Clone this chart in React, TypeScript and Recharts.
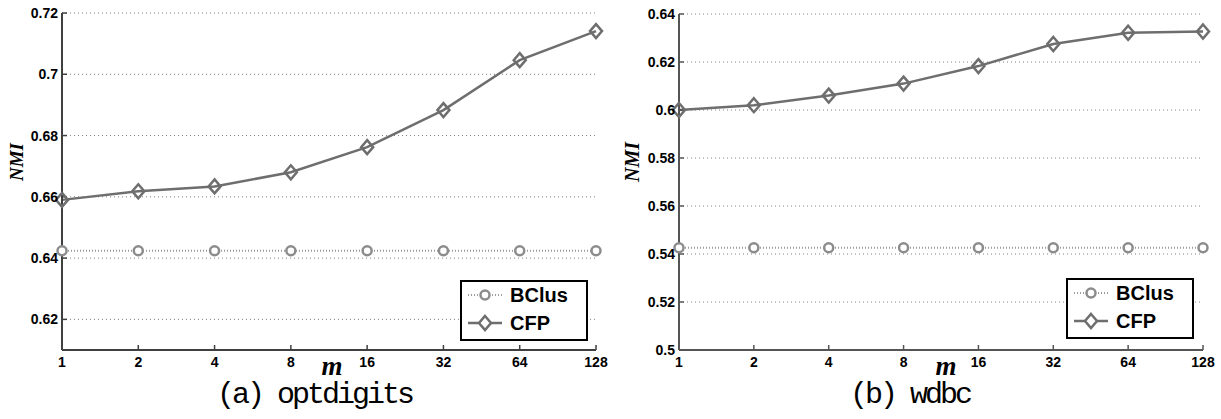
import { LineChart, Line, XAxis, YAxis, CartesianGrid, Legend } from 'recharts';

// m values (equally spaced on the axis)
const mValues = ['1', '2', '4', '8', '16', '32', '64', '128'];

// (a) optdigits
const optdigitsBClus = [0.6424, 0.6424, 0.6424, 0.6424, 0.6424, 0.6424, 0.6424, 0.6424];
const optdigitsCFP = [0.659, 0.6618, 0.6634, 0.668, 0.6762, 0.6883, 0.7046, 0.7141];
const optdigitsTicks = [0.62, 0.64, 0.66, 0.68, 0.7, 0.72];

// (b) wdbc
const wdbcBClus = [0.5426, 0.5426, 0.5426, 0.5426, 0.5426, 0.5426, 0.5426, 0.5426];
const wdbcCFP = [0.6, 0.602, 0.606, 0.611, 0.6183, 0.6275, 0.6322, 0.6327];
const wdbcTicks = [0.5, 0.52, 0.54, 0.56, 0.58, 0.6, 0.62, 0.64];

const CFP_COLOR = '#6e6e6e';
const BCLUS_COLOR = '#8c8c8c';
const tickFont = { fontFamily: '"Liberation Sans", Arial, sans-serif', fontWeight: 'bold', fontSize: 14, fill: '#000' };
const labelFont = '"Liberation Serif", "Times New Roman", serif';

function DiamondDot(props: any) {
  const { cx, cy, index } = props;
  if (cx == null || cy == null) return <g key={`dd-${index}`} />;
  return (
    <path
      key={`dd-${index}`}
      d={`M${cx},${cy - 7}L${cx + 6},${cy}L${cx},${cy + 7}L${cx - 6},${cy}Z`}
      fill="none"
      stroke={CFP_COLOR}
      strokeWidth={2.5}
    />
  );
}

const LegendBox = () => (
  <div style={{ width: '100%', height: '100%', position: 'relative' }}>
    <svg width={128} height={61} style={{ position: 'absolute', left: 0, top: 0 }}>
      <rect x={1} y={1} width={126} height={59} fill="#fff" stroke="#000" strokeWidth={2} />
      <line x1={8} y1={15} x2={42} y2={15} stroke="#9a9a9a" strokeWidth={2} strokeDasharray="1 2" />
      <circle cx={25} cy={15} r={4.5} fill="#fff" stroke={BCLUS_COLOR} strokeWidth={2.5} />
      <line x1={8} y1={43} x2={42} y2={43} stroke={CFP_COLOR} strokeWidth={2.5} />
      <path d="M25,36L31,43L25,50L19,43Z" fill="#fff" stroke={CFP_COLOR} strokeWidth={2.5} />
      <text x={50} y={22} style={{ ...tickFont, fontSize: 20 }}>BClus</text>
      <text x={50} y={50} style={{ ...tickFont, fontSize: 20 }}>CFP</text>
    </svg>
  </div>
);

interface PanelProps {
  bclus: number[];
  cfp: number[];
  ticks: number[];
  domain: [number, number];
  width: number;
  leftWidth: number;
  marginTop: number;
  marginRight: number;
  legendLeft: number;
  legendTop: number;
  nmiX: number;
  nmiSize: number;
  mX: number;
  axisColor: string;
}

function Panel(p: PanelProps) {
  const data = mValues.map((m, i) => ({ m, bclus: p.bclus[i], cfp: p.cfp[i] }));
  const fmt = (v: number) => String(Number(v.toFixed(2)));
  const line = { stroke: p.axisColor, strokeWidth: 2 };
  const tl = { stroke: p.axisColor, strokeWidth: 1.5 };
  return (
    <LineChart
      width={p.width}
      height={419}
      data={data}
      margin={{ top: p.marginTop, right: p.marginRight, left: 0, bottom: 0 }}
    >
      <CartesianGrid xAxisId="b" yAxisId="l" vertical={false} stroke="#808080" strokeDasharray="1 3" />
      <XAxis
        xAxisId="b"
        dataKey="m"
        height={69}
        padding={{ left: 0, right: 0 }}
        stroke={p.axisColor}
        axisLine={line}
        tickLine={tl}
        tickSize={-5}
        tickMargin={12}
        tick={tickFont}
        interval={0}
        label={() => (
          <text x={p.mX} y={375} textAnchor="middle" style={{ fontFamily: labelFont, fontWeight: 'bold', fontStyle: 'italic', fontSize: 27 }}>
            m
          </text>
        )}
      />
      <XAxis
        xAxisId="t"
        dataKey="m"
        orientation="top"
        height={0}
        padding={{ left: 0, right: 0 }}
        stroke={p.axisColor}
        axisLine={line}
        tickLine={tl}
        tickSize={-5}
        tickFormatter={() => ''}
        interval={0}
      />
      <YAxis
        yAxisId="l"
        type="number"
        domain={p.domain}
        ticks={p.ticks}
        width={p.leftWidth}
        stroke={p.axisColor}
        axisLine={line}
        tickLine={tl}
        tickSize={-5}
        tickMargin={9}
        tick={tickFont}
        tickFormatter={fmt}
        interval={0}
        label={() => (
          <text
            x={p.nmiX}
            y={162}
            textAnchor="middle"
            dominantBaseline="central"
            transform={`rotate(-90 ${p.nmiX} 162)`}
            style={{ fontFamily: labelFont, fontWeight: 'bold', fontStyle: 'italic', fontSize: p.nmiSize }}
          >
            NMI
          </text>
        )}
      />
      <YAxis
        yAxisId="r"
        orientation="right"
        type="number"
        domain={p.domain}
        ticks={p.ticks}
        width={0}
        stroke={p.axisColor}
        axisLine={line}
        tickLine={tl}
        tickSize={-5}
        tickFormatter={() => ''}
        interval={0}
      />
      <Line
        xAxisId="b"
        yAxisId="r"
        dataKey="bclus"
        name="BClus"
        stroke="#9a9a9a"
        strokeWidth={2}
        strokeDasharray="1 2"
        dot={{ r: 4.5, fill: '#fff', stroke: BCLUS_COLOR, strokeWidth: 2.5, strokeDasharray: '' }}
        activeDot={false}
        isAnimationActive={false}
      />
      <Line
        xAxisId="t"
        yAxisId="l"
        dataKey="cfp"
        name="CFP"
        stroke={CFP_COLOR}
        strokeWidth={2.5}
        dot={DiamondDot}
        activeDot={false}
        isAnimationActive={false}
      />
      <Legend
        layout="vertical"
        align="center"
        verticalAlign="middle"
        content={<LegendBox />}
        wrapperStyle={{ left: p.legendLeft, top: p.legendTop, width: 128, height: 61 }}
      />
    </LineChart>
  );
}

const captionStyle: any = {
  position: 'absolute',
  top: 380,
  fontFamily: '"Liberation Mono", "Courier New", monospace',
  fontSize: 30,
  lineHeight: '30px',
  letterSpacing: -3,
  whiteSpace: 'pre',
  color: '#000',
};

export default function App() {
  return (
    <div style={{ position: 'absolute', left: 0, top: 0, width: 1221, height: 419, background: '#fff', overflow: 'hidden' }}>
      <div style={{ position: 'absolute', left: 0, top: 0 }}>
        <Panel
          bclus={optdigitsBClus}
          cfp={optdigitsCFP}
          ticks={optdigitsTicks}
          domain={[0.61, 0.72]}
          width={610}
          leftWidth={62}
          marginTop={13}
          marginRight={14}
          legendLeft={460}
          legendTop={280}
          nmiX={16}
          nmiSize={19}
          mX={332}
          axisColor="#404040"
        />
      </div>
      <div style={{ position: 'absolute', left: 610, top: 0 }}>
        <Panel
          bclus={wdbcBClus}
          cfp={wdbcCFP}
          ticks={wdbcTicks}
          domain={[0.5, 0.64]}
          width={611}
          leftWidth={69}
          marginTop={14}
          marginRight={18}
          legendLeft={456}
          legendTop={278}
          nmiX={22}
          nmiSize={20}
          mX={336}
          axisColor="#555555"
        />
      </div>
      <div style={{ ...captionStyle, left: 217 }}>(a) optdigits</div>
      <div style={{ ...captionStyle, left: 850 }}>(b) wdbc</div>
    </div>
  );
}
